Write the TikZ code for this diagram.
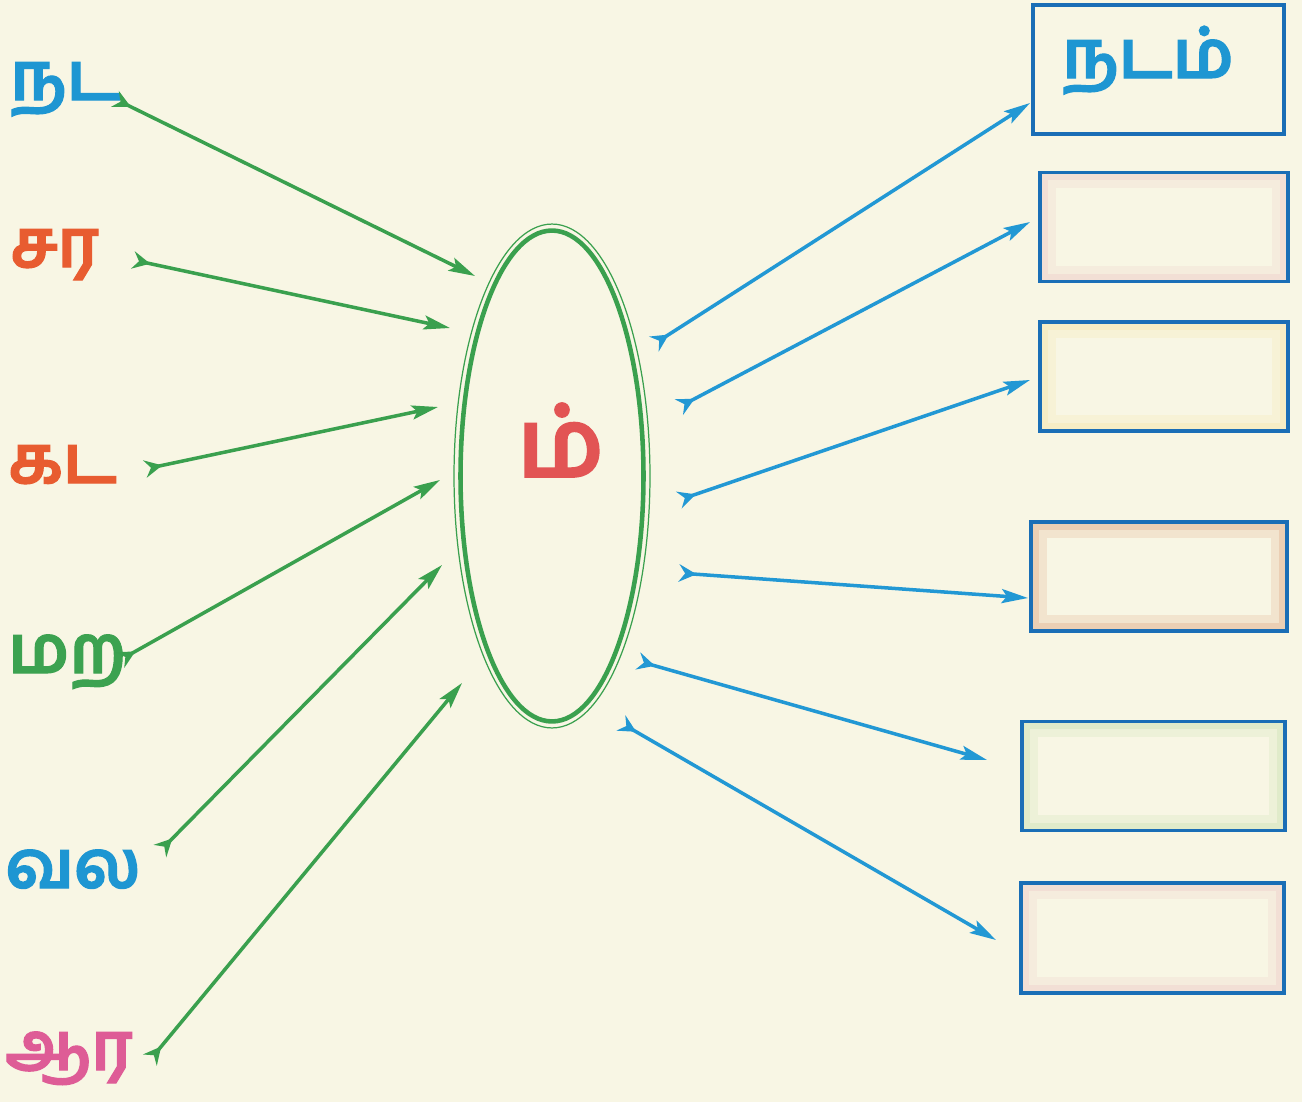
\documentclass[tikz,border=0pt]{standalone}
\usepackage{fontspec}
\usepackage{tikz}
\usetikzlibrary{arrows.meta, shapes.geometric}
\newfontfamily\tamilfont[Script=Tamil, FakeBold=1.6]{Hind Madurai}
\definecolor{bgcolor}{RGB}{248,246,228}
\definecolor{arrowgreen}{RGB}{58,160,78}
\definecolor{arrowblue}{RGB}{34,152,212}
\definecolor{boxblue}{RGB}{26,110,182}
\definecolor{wordblue}{RGB}{30,150,210}
\definecolor{wordorange}{RGB}{232,92,48}
\definecolor{wordgreen}{RGB}{60,162,80}
\definecolor{wordpink}{RGB}{222,92,150}
\definecolor{letterred}{RGB}{226,84,84}
\definecolor{glowpink}{RGB}{236,196,196}
\definecolor{glowyellow}{RGB}{246,226,160}
\definecolor{glowbrown}{RGB}{222,160,122}
\definecolor{glowgreen}{RGB}{194,222,170}

\begin{document}
\begin{tikzpicture}[x=0.02cm, y=-0.02cm,
    word/.style={font=\tamilfont\fontsize{38}{38}\selectfont\bfseries, inner sep=0pt, anchor=base west},
    greenarrow/.style={draw=arrowgreen, line width=2pt,
        {Stealth[reversed, length=10pt, width=10pt, inset=3.5pt]}-{Stealth[length=15pt, width=8pt, inset=3pt]}},
    bluearrow/.style={greenarrow, draw=arrowblue},
    answerbox/.style={draw=boxblue, line width=1.8pt, minimum height=2.18cm, minimum width=4.96cm,
        path picture={\draw[#1, line width=18pt, opacity=0.2]
            (path picture bounding box.south west) rectangle (path picture bounding box.north east);
            \draw[#1, line width=9pt, opacity=0.3]
            (path picture bounding box.south west) rectangle (path picture bounding box.north east);}}]
    % background
    \path[use as bounding box, fill=bgcolor] (0,0) rectangle (1302,1102);

    % words on the left
    \node[word, wordblue] (w1) at (10,100) {நட};
    \node[word, wordorange] (w2) at (10,267) {சர};
    \node[word, wordorange] (w3) at (8,483) {கட};
    \node[word, wordgreen] (w4) at (8,673) {மற};
    \node[word, wordblue] (w5) at (5,888) {வல};
    \node[word, wordpink] (w6) at (5,1070) {ஆர};

    % the oval with the letter
    \node[ellipse, draw=arrowgreen, line width=0.7pt, minimum width=3.92cm, minimum height=10.08cm, inner sep=0pt] (oval) at (552,476) {};
    \node[ellipse, draw=arrowgreen, line width=2.6pt, minimum width=3.66cm, minimum height=9.82cm, inner sep=0pt] (ovalin) at (552,476) {};
    \node[font=\tamilfont\fontsize{54}{54}\selectfont\bfseries, letterred, inner sep=0pt, anchor=base west] (m) at (517,477) {ம்};

    % answer boxes
    \node[answerbox=bgcolor, minimum width=5.02cm, minimum height=2.58cm] (b1) at (1158.5,69.5) {};
    \node[font=\tamilfont\fontsize{38}{38}\selectfont\bfseries, wordblue, inner sep=0pt, anchor=base west] (a1) at (1062,78) {நடம்};
    \node[answerbox=glowpink] (b2) at (1164,227) {};
    \node[answerbox=glowyellow] (b3) at (1164,376.5) {};
    \node[answerbox=glowbrown, minimum width=5.12cm] (b4) at (1159,576.5) {};
    \node[answerbox=glowgreen, minimum width=5.26cm] (b5) at (1153.5,776) {};
    \node[answerbox=glowpink, minimum width=5.26cm, minimum height=2.2cm] (b6) at (1152.5,938) {};

    % arrow ends
    \coordinate (g1s) at (115,99);   \coordinate (g1e) at (475,276);
    \coordinate (g2s) at (133,260);  \coordinate (g2e) at (450,328);
    \coordinate (g3s) at (145,469);  \coordinate (g3e) at (438,407);
    \coordinate (g4s) at (120,660);  \coordinate (g4e) at (440,480);
    \coordinate (g5s) at (160,851);  \coordinate (g5e) at (442,565);
    \coordinate (g6s) at (150,1060); \coordinate (g6e) at (462,683);
    \coordinate (b1s) at (654,344);  \coordinate (b1e) at (1030,103);
    \coordinate (b2s) at (679,407);  \coordinate (b2e) at (1030,222);
    \coordinate (b3s) at (679,500);  \coordinate (b3e) at (1030,380);
    \coordinate (b4s) at (679,573);  \coordinate (b4e) at (1028,598);
    \coordinate (b5s) at (638,661);  \coordinate (b5e) at (987,760);
    \coordinate (b6s) at (621,723);  \coordinate (b6e) at (996,940);

    % green arrows into the oval
    \draw[greenarrow] (g1s) -- (g1e);
    \draw[greenarrow] (g2s) -- (g2e);
    \draw[greenarrow] (g3s) -- (g3e);
    \draw[greenarrow] (g4s) -- (g4e);
    \draw[greenarrow] (g5s) -- (g5e);
    \draw[greenarrow] (g6s) -- (g6e);

    % blue arrows out to the boxes
    \draw[bluearrow] (b1s) -- (b1e);
    \draw[bluearrow] (b2s) -- (b2e);
    \draw[bluearrow] (b3s) -- (b3e);
    \draw[bluearrow] (b4s) -- (b4e);
    \draw[bluearrow] (b5s) -- (b5e);
    \draw[bluearrow] (b6s) -- (b6e);
\end{tikzpicture}
\end{document}
